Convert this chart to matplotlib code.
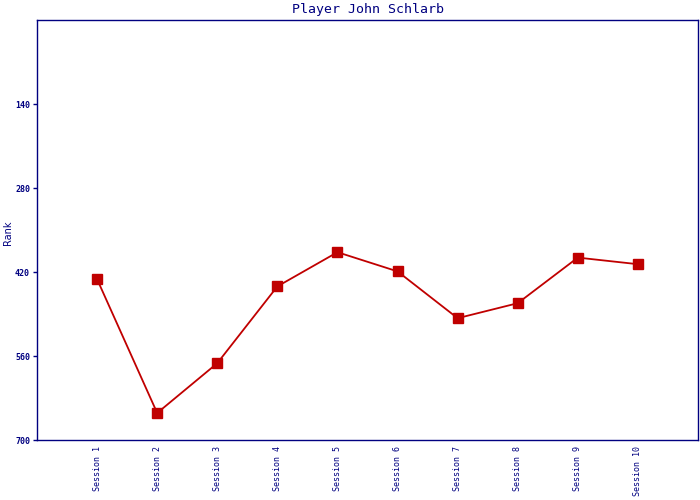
import matplotlib
matplotlib.use("Agg")
import matplotlib.pyplot as plt

sessions = ["Session 1", "Session 2", "Session 3", "Session 4", "Session 5",
            "Session 6", "Session 7", "Session 8", "Session 9", "Session 10"]
rank = [432, 655, 572, 444, 387, 419, 497, 472, 396, 407]
y_ticks = [140, 280, 420, 560, 700]

navy = "#000080"
red = "#C00000"

fig = plt.figure(figsize=(7, 5), dpi=100)
ax = fig.add_axes([37/700, 60/500, 661/700, 420/500])

x = list(range(1, len(sessions) + 1))
ax.plot(x, rank, color=red, lw=1.3, marker="s", ms=6.5, mfc=red, mec=red)

ax.set_xlim(0, 11)
ax.set_ylim(700, 0)
ax.set_yticks(y_ticks)
ax.set_yticklabels([str(v) for v in y_ticks], fontsize=6, color=navy,
                   family="DejaVu Sans Mono", fontweight="bold")
ax.set_xticks(x)
ax.set_xticklabels(sessions, rotation=90, fontsize=6, color=navy,
                   family="DejaVu Sans Mono", va="top")
ax.tick_params(axis="x", length=0, pad=4)
ax.tick_params(axis="y", length=3, width=1, color=navy, pad=2)

for s in ax.spines.values():
    s.set_color(navy)
    s.set_linewidth(1)

ax.set_title("Player John Schlarb", fontsize=9.5, color=navy,
             family="DejaVu Sans Mono", pad=5)
ax.set_ylabel("Rank", fontsize=7, color=navy, va="center")
ax.yaxis.set_label_coords(-0.044, 0.493)

fig.savefig("out.png", dpi=100)
